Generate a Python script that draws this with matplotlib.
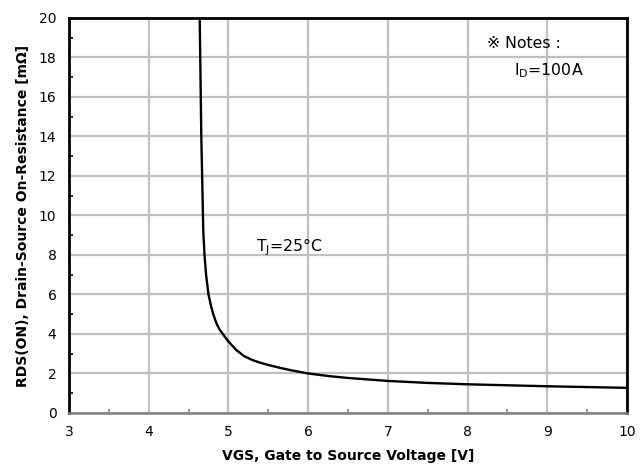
import matplotlib
matplotlib.use("Agg")
import matplotlib.pyplot as plt
from matplotlib.ticker import MultipleLocator

plt.rcParams['font.family'] = ['DejaVu Sans', 'Noto Sans CJK JP']
plt.rcParams['mathtext.fontset'] = 'dejavusans'

vgs = [4.64, 4.66, 4.685, 4.70, 4.72, 4.75, 4.78, 4.81, 4.83, 4.86, 4.89, 4.93, 4.965, 5.0, 5.1,
       5.2, 5.3, 5.4, 5.5, 5.65, 5.8, 6.0, 6.25, 6.5, 7.0, 7.5, 8.0, 8.5, 9.0, 9.5, 10.0]
rds = [20, 14, 9.2, 8.0, 7.0, 6.0, 5.45, 5.0, 4.76, 4.45, 4.22, 4.0, 3.8, 3.62, 3.18,
       2.87, 2.68, 2.54, 2.43, 2.28, 2.15, 2.0, 1.87, 1.77, 1.62, 1.52, 1.45, 1.40, 1.35, 1.31, 1.27]

x_ticks = [3, 4, 5, 6, 7, 8, 9, 10]
y_ticks = [0, 2, 4, 6, 8, 10, 12, 14, 16, 18, 20]

fig = plt.figure(figsize=(6.43, 4.73), dpi=100)
ax = fig.add_axes([0.1073, 0.127, 0.8677, 0.835])

ax.plot(vgs, rds, color='black', lw=1.7, zorder=3, solid_joinstyle='round')

ax.set_xlim(3, 10)
ax.set_ylim(0, 20)
ax.set_xticks(x_ticks)
ax.set_yticks(y_ticks)
ax.xaxis.set_minor_locator(MultipleLocator(0.5))
ax.yaxis.set_minor_locator(MultipleLocator(1))
ax.grid(True, which='major', color='#c0c0c0', lw=1.6, zorder=0)
ax.set_axisbelow(True)

ax.tick_params(which='major', length=0, labelsize=10, pad=9)
ax.tick_params(axis='x', which='major', pad=9)
ax.tick_params(which='minor', direction='in', length=3, width=1.2, color='black')
ax.tick_params(axis='x', which='minor', color='#808080')

for s in ['left', 'top', 'right']:
    ax.spines[s].set_color('black')
    ax.spines[s].set_linewidth(2.0)
ax.spines['bottom'].set_color('#808080')
ax.spines['bottom'].set_linewidth(1.8)

ax.set_xlabel('VGS, Gate to Source Voltage [V]', fontsize=10, fontweight='bold', labelpad=7)
ax.set_ylabel('RDS(ON), Drain-Source On-Resistance [mΩ]', fontsize=10, fontweight='bold', labelpad=6)

ax.text(8.24, 18.7, '※ Notes :', fontsize=11.3, va='center', ha='left')
ax.text(8.58, 17.35, r'I$_\mathregular{D}$=100A', fontsize=11.3, va='center', ha='left')
ax.text(5.35, 8.4, r'T$_\mathregular{J}$=25°C', fontsize=11.3, va='center', ha='left')

fig.savefig('out.png', dpi=100)
